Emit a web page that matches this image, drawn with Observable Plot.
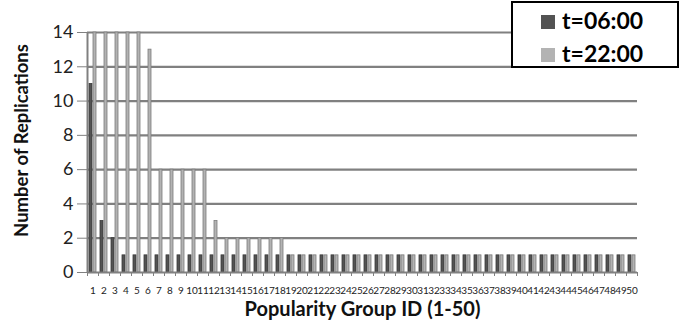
<!DOCTYPE html>
<html>
<head>
<meta charset="utf-8">
<script src="https://cdn.jsdelivr.net/npm/d3@7"></script>
<script src="https://cdn.jsdelivr.net/npm/@observablehq/plot@0.6"></script>
<style>
  body { margin: 0; background: #fff; font-family: Lato, "Open Sans", sans-serif; }
  #wrap { position: relative; width: 681px; height: 324px; }
  #legend { position: absolute; left: 511px; top: 1px; width: 164px; height: 63px; border: 2px solid #000; background: #fff; }
  .row { position: absolute; left: 28px; font-weight: bold; font-size: 23px; line-height: 23px; color: #000; white-space: nowrap; }
  .sw { display: inline-block; width: 14px; height: 14px; margin-right: 7px; vertical-align: 0px; }
</style>
</head>
<body>
<div id="wrap"><div id="legend"></div></div>
<script>
const groups = d3.range(1, 51);
const seriesNames = ["t=06:00", "t=22:00"];
const seriesColors = ["#535353", "#b3b3b3"];
const seriesStrokes = ["#3a3a3a", "#7c7c7c"];
const t0600 = [11, 3, 2, 1, 1, 1, 1, 1, 1, 1, 1, 1, 1, 1, 1, 1, 1, 1, 1, 1, 1, 1, 1, 1, 1, 1, 1, 1, 1, 1, 1, 1, 1, 1, 1, 1, 1, 1, 1, 1, 1, 1, 1, 1, 1, 1, 1, 1, 1, 1];
const t2200 = [14, 14, 14, 14, 14, 13, 6, 6, 6, 6, 6, 3, 2, 2, 2, 2, 2, 2, 1, 1, 1, 1, 1, 1, 1, 1, 1, 1, 1, 1, 1, 1, 1, 1, 1, 1, 1, 1, 1, 1, 1, 1, 1, 1, 1, 1, 1, 1, 1, 1];
const yTicks = [0, 2, 4, 6, 8, 10, 12, 14];

const dark = groups.map((g, i) => ({group: g, value: t0600[i]}));
const light = groups.map((g, i) => ({group: g, value: t2200[i]}));
const bounds = d3.range(0, groups.length + 1).map(i => groups[0] - 0.5 + i);

const chart = Plot.plot({
  width: 681,
  height: 324,
  marginLeft: 87,
  marginRight: 44,
  marginTop: 32,
  marginBottom: 52,
  style: {fontFamily: "Lato, 'Open Sans', sans-serif", background: "transparent"},
  x: {domain: [groups[0] - 0.5, groups[groups.length - 1] + 0.5]},
  y: {domain: [0, 14]},
  marks: [
    Plot.ruleY(yTicks.filter(d => d > 0), {stroke: "#808080", strokeWidth: 2.2}),
    Plot.rectY(dark, {x1: d => d.group - 0.5, x2: d => d.group + 0.5, y: "value", insetLeft: 2, insetRight: 6, fill: seriesColors[0], stroke: seriesStrokes[0], strokeWidth: 0.8}),
    Plot.rectY(light, {x1: d => d.group - 0.5, x2: d => d.group + 0.5, y: "value", insetLeft: 6, insetRight: 2, fill: seriesColors[1], stroke: seriesStrokes[1], strokeWidth: 0.8}),
    Plot.ruleY([0], {stroke: "#808080", strokeWidth: 2}),
    Plot.ruleX([bounds[0]], {y1: 0, y2: 14, stroke: "#808080", strokeWidth: 2}),
    Plot.axisY({ticks: yTicks, tickSize: 10, tickPadding: 4, stroke: "#808080", fontSize: 18, fill: "#222", label: null}),
    Plot.axisX({ticks: bounds, tickSize: 4, tickFormat: () => "", stroke: "#808080", label: null}),
    Plot.axisX({ticks: groups, tickSize: 0, tickPadding: 14, fontSize: 10, fill: "#222", label: null, tickFormat: d => String(d), style: {letterSpacing: "-0.9px"}}),
    Plot.text(["Popularity Group ID (1-50)"], {frameAnchor: "bottom", dy: 43, fontSize: 20, fontWeight: "bold", fill: "#111"}),
    Plot.text(["Number of Replications"], {frameAnchor: "left", textAnchor: "middle", dx: -65, dy: -12, rotate: -90, fontSize: 18.5, fontWeight: "bold", fill: "#111"})
  ]
});
document.getElementById("wrap").insertBefore(chart, document.getElementById("legend"));

const legend = document.getElementById("legend");
seriesNames.forEach((name, i) => {
  const row = document.createElement("div");
  row.className = "row";
  row.style.top = (i === 0 ? 6 : 39) + "px";
  row.innerHTML = `<span class="sw" style="background:${seriesColors[i]}"></span>${name}`;
  legend.appendChild(row);
});
</script>
</body>
</html>
